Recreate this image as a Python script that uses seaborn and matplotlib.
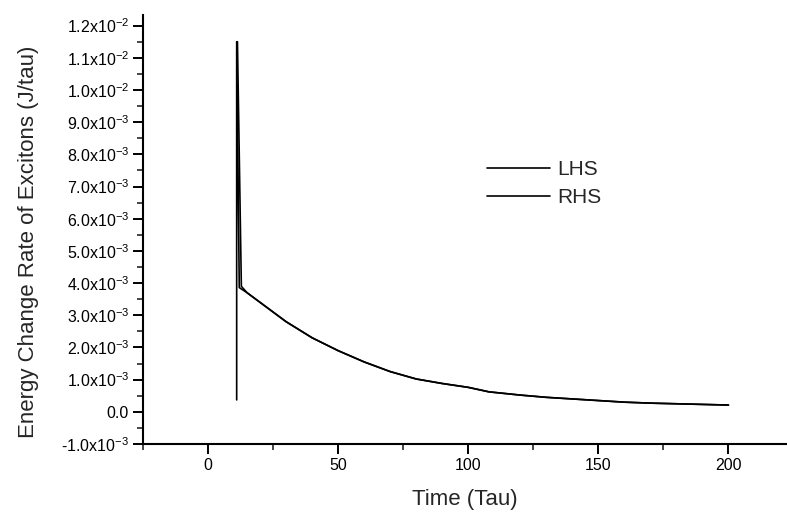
import numpy as np
import pandas as pd
import matplotlib
matplotlib.use("Agg")
import matplotlib.pyplot as plt
import seaborn as sns
from matplotlib.ticker import MultipleLocator, FixedLocator, FixedFormatter

# ---- data ----
lhs_time = [11.0, 11.0, 12.0, 15, 20, 25, 30, 40, 50, 60, 70, 80, 90, 100, 108, 120, 130, 140, 150, 160, 170, 180, 190, 200]
lhs_val = [0.00037, 0.0115, 0.00386, 0.0037, 0.0034, 0.0031, 0.0028, 0.0023, 0.0019, 0.00155, 0.00125,
           0.00102, 0.00088, 0.00076, 0.00062, 0.00052, 0.00045, 0.00040, 0.00035, 0.00030, 0.00027,
           0.00025, 0.00023, 0.00021]
rhs_time = [11.3, 12.8, 15, 20, 25, 30, 40, 50, 60, 70, 80, 90, 100, 108, 120, 130, 140, 150, 160, 170, 180, 190, 200]
rhs_val = [0.0115, 0.0039, 0.0037, 0.0034, 0.0031, 0.0028, 0.0023, 0.0019, 0.00155, 0.00125,
           0.00102, 0.00088, 0.00076, 0.00062, 0.00052, 0.00045, 0.00040, 0.00035, 0.00030, 0.00027,
           0.00025, 0.00023, 0.00021]

ytick_vals = [-1e-3, 0.0, 1e-3, 2e-3, 3e-3, 4e-3, 5e-3, 6e-3, 7e-3, 8e-3, 9e-3, 1.0e-2, 1.1e-2, 1.2e-2]
ytick_labels = [r"-1.0x10$^{-3}$", "0.0", r"1.0x10$^{-3}$", r"2.0x10$^{-3}$", r"3.0x10$^{-3}$",
                r"4.0x10$^{-3}$", r"5.0x10$^{-3}$", r"6.0x10$^{-3}$", r"7.0x10$^{-3}$",
                r"8.0x10$^{-3}$", r"9.0x10$^{-3}$", r"1.0x10$^{-2}$", r"1.1x10$^{-2}$", r"1.2x10$^{-2}$"]
xtick_vals = [0, 50, 100, 150, 200]

lhs = pd.DataFrame({"Time": lhs_time, "Rate": lhs_val})
rhs = pd.DataFrame({"Time": rhs_time, "Rate": rhs_val})

sns.set_style("ticks")
plt.rcParams["font.family"] = ["Liberation Sans", "DejaVu Sans"]
plt.rcParams["mathtext.fontset"] = "custom"
plt.rcParams["mathtext.rm"] = "Liberation Sans"
plt.rcParams["mathtext.it"] = "Liberation Sans"
plt.rcParams["mathtext.bf"] = "Liberation Sans:bold"

fig = plt.figure(figsize=(7.87, 5.19), dpi=100)
ax = fig.add_axes([143 / 787, 75 / 519, 1 - 143 / 787, (444 - 15) / 519])

sns.lineplot(data=lhs, x="Time", y="Rate", sort=False, estimator=None, color="black", lw=1.2, ax=ax, label="LHS")
sns.lineplot(data=rhs, x="Time", y="Rate", sort=False, estimator=None, color="black", lw=1.2, ax=ax, label="RHS")

ax.set_xlim(-25, 222.5)
ax.set_ylim(-1e-3, 1.233e-2)
ax.xaxis.set_major_locator(FixedLocator(xtick_vals))
ax.xaxis.set_minor_locator(MultipleLocator(25))
ax.yaxis.set_major_locator(FixedLocator(ytick_vals))
ax.yaxis.set_major_formatter(FixedFormatter(ytick_labels))
ax.yaxis.set_minor_locator(MultipleLocator(5e-4))
ax.tick_params(which="major", direction="out", length=7.5, width=1.4, labelsize=11.5, colors="black", pad=2.5)
ax.tick_params(which="minor", direction="out", length=4, width=1.2)
for s in ["left", "bottom"]:
    ax.spines[s].set_linewidth(1.5)
    ax.spines[s].set_color("black")
sns.despine(ax=ax)

ax.set_xlabel("Time (Tau)", fontsize=16)
ax.set_ylabel("Energy Change Rate of Excitons (J/tau)", fontsize=16)
ax.xaxis.set_label_coords(0.5, -(500 - 444) / 429, transform=ax.transAxes)
ax.xaxis.label.set_va("center")
ax.yaxis.set_label_coords(29 / 787, (519 - 242) / 519, transform=fig.transFigure)
ax.yaxis.label.set_va("center")

leg = ax.legend(loc="upper left", bbox_to_anchor=(487 / 787, 1 - 160 / 519), bbox_transform=fig.transFigure,
                frameon=False, fontsize=15, handlelength=3.0, handletextpad=0.35, borderpad=0,
                borderaxespad=0, labelspacing=0.45)

fig.savefig("out.png", dpi=100)
